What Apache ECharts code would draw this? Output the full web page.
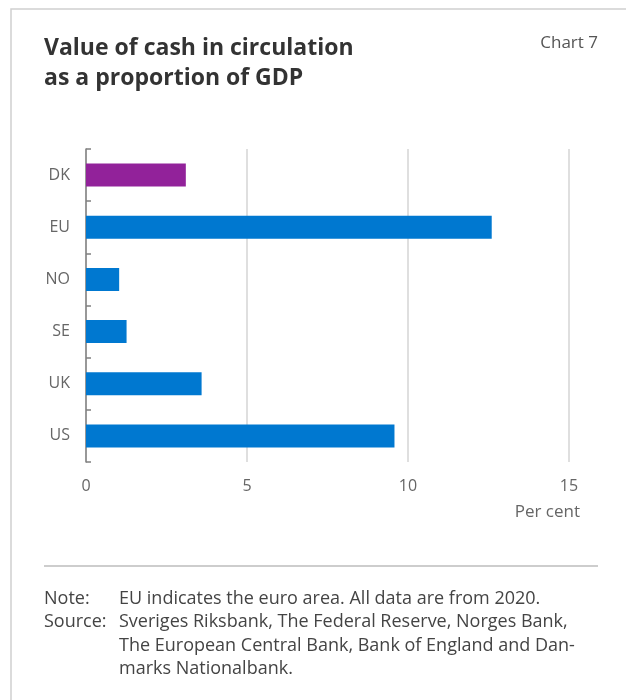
<!DOCTYPE html>
<html>
<head>
<meta charset="utf-8">
<script src="https://cdn.jsdelivr.net/npm/echarts@6/dist/echarts.min.js"></script>
<style>
  html, body { margin: 0; padding: 0; background: #fff; }
  #chart { width: 626px; height: 700px; }
</style>
</head>
<body>
<div id="chart"></div>
<script>
const categories = ['DK', 'EU', 'NO', 'SE', 'UK', 'US']
const values = [3.1, 12.6, 1.03, 1.26, 3.59, 9.58]
const xTicks = [0, 5, 10, 15]

const font = '"Open Sans", "Noto Sans", sans-serif'
const textColor = '#666'

const myChart = echarts.init(document.getElementById('chart'))

const option = {
  animation: false,
  grid: {
    left: 86,
    right: 57,
    top: 149,
    bottom: 238,
  },
  xAxis: {
    type: 'value',
    min: 0,
    max: 15,
    interval: 5,
    axisLine: { show: false },
    axisTick: { show: false },
    splitLine: { lineStyle: { color: '#d4d4d4', width: 1.5 } },
    axisLabel: {
      color: textColor,
      fontFamily: font,
      fontSize: 16,
      margin: 16,
      formatter: v => (xTicks.includes(v) ? String(v) : ''),
    },
  },
  yAxis: {
    type: 'category',
    inverse: true,
    data: categories,
    axisLine: { show: true, lineStyle: { color: '#808080', width: 1.5 } },
    axisTick: { show: true, inside: true, length: 5, lineStyle: { color: '#808080', width: 1.5 } },
    axisLabel: {
      color: textColor,
      fontFamily: font,
      fontSize: 16,
      margin: 16,
    },
  },
  series: [
    {
      type: 'bar',
      barWidth: 23,
      data: values.map((v, i) => ({
        value: v,
        itemStyle: { color: categories[i] === 'DK' ? '#92229a' : '#0078d0' },
      })),
      z: 3,
    },
  ],
  graphic: [
    {
      type: 'polyline',
      shape: { points: [[11, 700], [11, 9], [626, 9]] },
      style: { stroke: '#d0d0d0', lineWidth: 1.5, fill: null },
    },
    {
      type: 'text',
      left: 44,
      top: 33,
      style: {
        text: 'Value of cash in circulation\nas a proportion of GDP',
        font: 'bold 23px ' + font,
        lineHeight: 30,
        fill: '#333',
      },
    },
    {
      type: 'text',
      right: 28,
      top: 35,
      style: {
        text: 'Chart 7',
        font: '17px ' + font,
        fill: '#555',
      },
    },
    {
      type: 'text',
      x: 580,
      y: 512,
      style: {
        text: 'Per cent',
        font: '17px ' + font,
        fill: textColor,
        align: 'right',
        verticalAlign: 'middle',
      },
    },
    {
      type: 'line',
      shape: { x1: 44, y1: 566, x2: 598, y2: 566 },
      style: { stroke: '#bdbdbd', lineWidth: 1.5 },
    },
    {
      type: 'text',
      x: 44,
      y: 587,
      style: {
        text: 'Note:\nSource:',
        font: '18px ' + font,
        lineHeight: 23.5,
        fill: '#444',
      },
    },
    {
      type: 'text',
      x: 119,
      y: 587,
      style: {
        text: 'EU indicates the euro area. All data are from 2020.\nSveriges Riksbank, The Federal Reserve, Norges Bank,\nThe European Central Bank, Bank of England and Dan-\nmarks Nationalbank.',
        font: '18px ' + font,
        lineHeight: 23.5,
        fill: '#444',
      },
    },
  ],
}

myChart.setOption(option)
</script>
</body>
</html>
